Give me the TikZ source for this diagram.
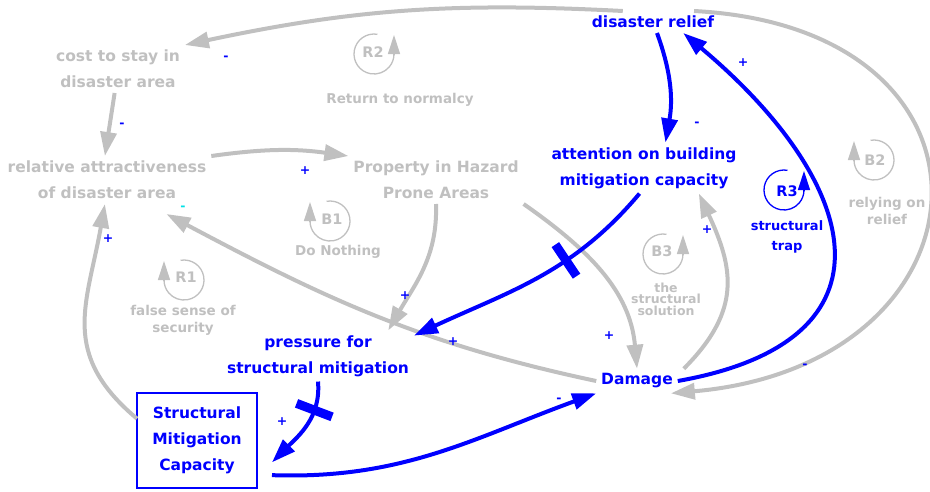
\documentclass[tikz,border=0pt]{standalone}
\usepackage{fontspec}
\setmainfont{DejaVu Sans}
\usetikzlibrary{arrows.meta,decorations.markings}

\definecolor{cldgray}{RGB}{192,192,192}
\definecolor{cldblue}{RGB}{0,0,255}
\definecolor{cldcyan}{RGB}{0,225,230}

\tikzset{
	var/.style={font=\bfseries\fontsize{15.5}{26}\selectfont, align=center, text=cldgray, inner sep=2pt, outer sep=3pt},
	keyvar/.style={var, text=cldblue},
	link/.style={draw=cldgray, line width=4pt, -{Triangle[length=24pt,width=16pt]}},
	keylink/.style={link, draw=cldblue},
	pol/.style={font=\bfseries\fontsize{12.5}{12}\selectfont, text=cldblue, inner sep=0pt},
	loopname/.style={font=\bfseries\fontsize{14.5}{14}\selectfont, inner sep=0pt},
	looptxt/.style={font=\bfseries\fontsize{13.5}{17}\selectfont, text=cldgray, align=center, inner sep=0pt},
	delaymark/.style={postaction={decorate, decoration={markings,
		mark=at position #1 with {\fill[cldblue] (-4.5pt,-19pt) rectangle (4.5pt,19pt);}}}},
	loopright/.pic={
		\draw[line width=1.3pt] (80:20pt) arc[start angle=80, end angle=360, radius=20pt];
		\draw[line width=1.3pt, -{Triangle[length=19pt,width=12pt]}] (20pt,0) -- (20pt,19pt);
	},
	loopleft/.pic={
		\draw[line width=1.3pt] (100:20pt) arc[start angle=100, end angle=-180, radius=20pt];
		\draw[line width=1.3pt, -{Triangle[length=19pt,width=12pt]}] (-20pt,0) -- (-20pt,19pt);
	},
}

\begin{document}
\begin{tikzpicture}[x=1pt, y=1pt]
	\useasboundingbox (0,0) rectangle (930,-491);

	% variables
	\node[keyvar] (relief) at (653,-22) {disaster relief};
	\node[var] (cost) at (118,-69) {cost to stay in\\disaster area};
	\node[var] (attr) at (107,-180) {relative attractiveness\\of disaster area};
	\node[var] (prop) at (436,-180) {Property in Hazard\\Prone Areas};
	\node[keyvar] (attn) at (644,-168) {attention on building\\mitigation capacity};
	\node[keyvar] (press) at (318,-356) {pressure for\\structural mitigation};
	\node[keyvar, draw=cldblue, line width=1.8pt, minimum width=120pt, minimum height=95pt, outer sep=0pt] (smc) at (197,-440.5) {Structural\\Mitigation\\Capacity};
	\node[keyvar] (dmg) at (637,-381) {Damage};

	% loops
	\pic[cldgray] at (374,-54) {loopright};
	\node[loopname, text=cldgray] (R2) at (373,-52) {R2};
	\node[looptxt] (R2t) at (400,-100) {Return to normalcy};
	\pic[cldgray] at (330,-221) {loopleft};
	\node[loopname, text=cldgray] (B1) at (332,-219) {B1};
	\node[looptxt] (B1t) at (338,-252) {Do Nothing};
	\pic[cldgray] at (184,-280) {loopleft};
	\node[loopname, text=cldgray] (R1) at (186,-277) {R1};
	\node[looptxt] (R1t) at (183,-320) {false sense of\\security};
	\pic[cldgray] at (663,-254) {loopright};
	\node[loopname, text=cldgray] (B3) at (662,-251) {B3};
	\node[looptxt, font=\bfseries\fontsize{12.5}{11.5}\selectfont] (B3t) at (666,-299) {the\\structural\\solution};
	\pic[cldblue] at (784,-190) {loopright};
	\node[loopname, text=cldblue] (R3) at (787,-191) {R3};
	\node[looptxt, text=cldblue, font=\bfseries\fontsize{13}{20}\selectfont] (R3t) at (787,-237) {structural\\trap};
	\pic[cldgray] at (874,-160) {loopleft};
	\node[loopname, text=cldgray] (B2) at (875,-160) {B2};
	\node[looptxt] (B2t) at (887,-211) {relying on\\relief};

	% links
	\draw[link] (relief.160) to[out=177,in=12] (cost.north east);
	\draw[link] (cost.262) -- (attr.95);
	\draw[link] (attr.north east) to[out=8,in=172] (prop.north west);
	\draw[link] (prop.south) to[out=-88,in=60] (press.20);
	\draw[link] (prop.south east) to[out=-35,in=95] (dmg.north);
	\draw[link] (dmg.west) to[out=168,in=-28] ([yshift=-10pt]attr.-22);
	\draw[link] (smc.160) to[out=140,in=-100,looseness=1.2] (attr.265);
	\draw[link] ([xshift=6pt]dmg.north east) to[out=45,in=-65,looseness=1.2] (attn.-25);
	\draw[link] (relief.15) to[out=-3,in=5,looseness=2.2] (dmg.-20);
	\draw[keylink] (dmg.east) to[out=10,in=-40,looseness=1.7] (relief.-20);
	\draw[keylink] (relief.-70) to[out=-70,in=80] (attn.50);
	\draw[keylink, delaymark=0.37] (attn.-100) to[out=-130,in=25] (press.12);
	\draw[keylink, delaymark=0.3] (press.south) to[out=-85,in=45] ([xshift=15pt]smc.-20);
	\draw[keylink] ([xshift=15pt]smc.-30) to[out=-2,in=200] (dmg.south west);

	% polarities
	\foreach \px/\py/\ps [count=\i] in {226/58/-, 122/125/-, 305/171/+, 405/296/+, 609/336/+, 108/239/+, 707/230/+,
		743/63/+, 805/366/-, 697/124/-, 453/342/+, 282/422/+, 559/400/-}
		\node[pol] (pol\i) at (\px,-\py) {\ps};
	\node[pol, text=cldcyan] (polc) at (183,-208) {-};

\end{tikzpicture}
\end{document}
